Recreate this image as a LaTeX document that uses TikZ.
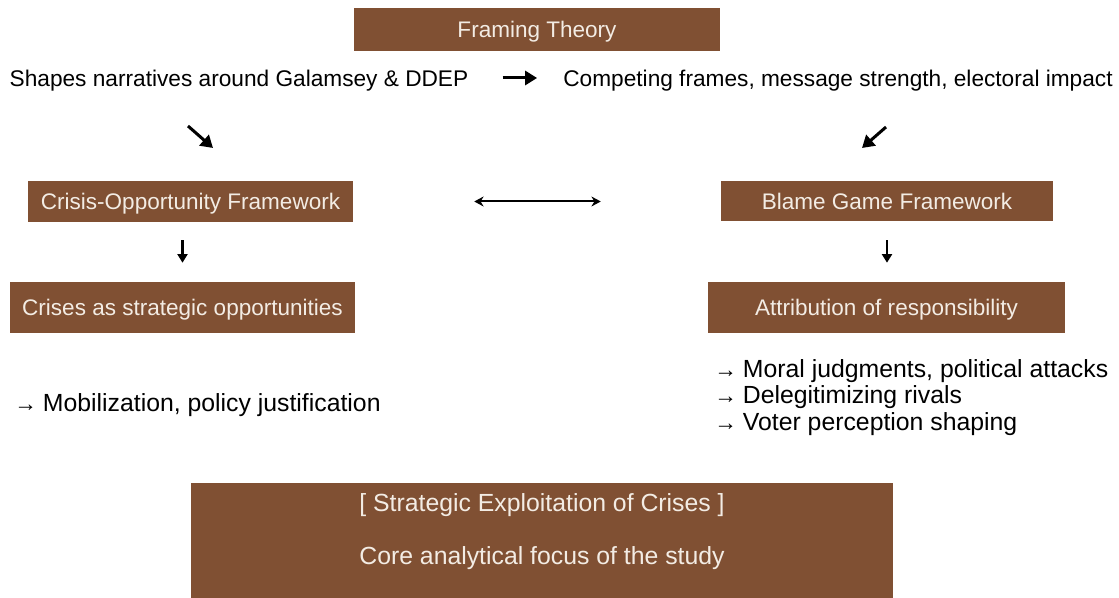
\documentclass[tikz,border=0pt]{standalone}
\usepackage{fontspec}
\setmainfont{Liberation Sans}
\usetikzlibrary{positioning,arrows.meta,calc}
\definecolor{framebrown}{RGB}{128,80,51}
\definecolor{boxtext}{RGB}{243,236,228}
\newcommand{\itemarrow}{{\fontsize{17}{17}\selectfont →}\hspace{4.5pt}}

\begin{document}
\begin{tikzpicture}[x=0.75pt,y=-0.75pt,
		brownbox/.style={fill=framebrown,text=boxtext,inner sep=0pt,text height=12.1pt,text depth=0pt,font=\fontsize{16.9}{20}\selectfont},
		plain/.style={inner sep=0pt,text height=12.2pt,text depth=0pt,font=\fontsize{17}{20}\selectfont},
		listtext/.style={inner sep=0pt,align=left,font=\fontsize{18.6}{19.9}\selectfont},
		bigarrow/.style={line width=2.25pt,-{Triangle[length=9pt,width=10.5pt]}},
		downarrow/.style={line width=1.6pt,-{Triangle[length=6.5pt,width=7.5pt]}},
		bothways/.style={line width=1.5pt,{Stealth[length=7pt,width=7.5pt]}-{Stealth[length=7pt,width=7.5pt]}}]
	\useasboundingbox (0,0) rectangle (1119,598);
	% top
	\node[brownbox,minimum width=366*0.75pt,minimum height=43*0.75pt] (framing) at (537,29.5) {Framing Theory};
	\node[plain] (shapes) at (239,78) {Shapes narratives around Galamsey \& DDEP};
	\node[plain] (competing) at (838,78) {Competing frames, message strength, electoral impact};
	%
	\node[brownbox,minimum width=325*0.75pt,minimum height=41*0.75pt] (coframe) at (190.5,201.5) {Crisis-Opportunity Framework};
	\node[brownbox,minimum width=345*0.75pt,minimum height=51*0.75pt] (crises) at (182.5,307.5) {Crises as strategic opportunities};
	\node[brownbox,minimum width=332*0.75pt,minimum height=40*0.75pt] (blame) at (887,201) {Blame Game Framework};
	\node[brownbox,minimum width=357*0.75pt,minimum height=51*0.75pt] (attribution) at (886.5,307.5) {Attribution of responsibility};
	%
	\node[listtext,anchor=west] (mobil) at (14,405) {\itemarrow Mobilization, policy justification};
	\node[listtext,anchor=west] (effects) at (714,397.5) {\itemarrow Moral judgments, political attacks\\
		\itemarrow Delegitimizing rivals\\
		\itemarrow Voter perception shaping};
	% bottom
	\node[brownbox,anchor=north,minimum width=702*0.75pt,minimum height=118*0.75pt] (core) at (542,483) {};
	\node[listtext,text=boxtext] (corehead) at ($(core.north)+(0,22)$) {[ Strategic Exploitation of Crises ]};
	\node[listtext,text=boxtext] (corefocus) at ($(core.north)+(0,75)$) {Core analytical focus of the study};
	%
	\coordinate (s1) at (188,126);
	\coordinate (s2) at (213,148);
	\coordinate (c1) at (886,127);
	\coordinate (c2) at (862,148);
	\draw[bigarrow,shorten <=25.5pt,shorten >=19.5pt] (shapes.east) -- (competing.west);
	\draw[bigarrow] (s1) -- (s2);
	\draw[bigarrow] (c1) -- (c2);
	\draw[downarrow,shorten <=13.5pt,shorten >=14.25pt] (coframe.south -| crises.north) -- (crises.north);
	\draw[downarrow,shorten <=14.25pt,shorten >=14.25pt] (blame.south) -- (attribution.north -| blame.south);
	\draw[bothways,shorten <=90.75pt,shorten >=90pt] (coframe.east) -- (coframe.east -| blame.west);
\end{tikzpicture}
\end{document}
